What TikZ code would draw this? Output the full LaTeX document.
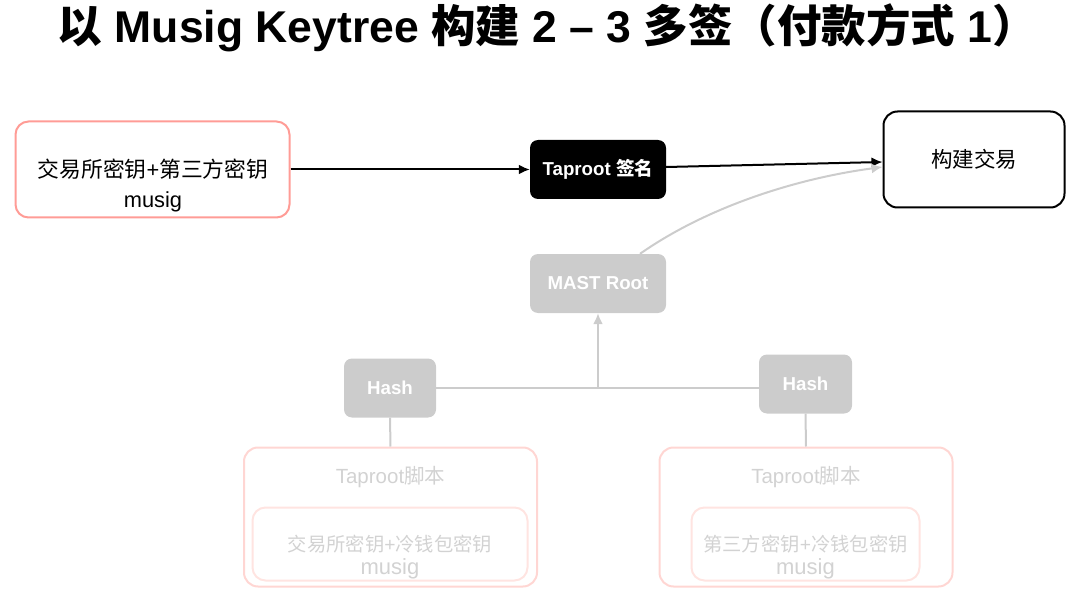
\documentclass[tikz,border=0pt]{standalone}
\usepackage{fontspec}
\setmainfont{Liberation Sans}
\newfontfamily\cjk{Noto Sans CJK SC}
\usetikzlibrary{arrows.meta}
\definecolor{keyred}{HTML}{FF9C96}
\definecolor{fadered}{HTML}{FFD6D3}
\definecolor{palered}{HTML}{FFE4E1}
\definecolor{boxgray}{HTML}{CCCCCC}
\definecolor{textgray}{HTML}{D2D2D2}
\tikzset{
  box/.style={rectangle,inner sep=0pt,align=center},
  keybox/.style={box,draw=keyred,line width=2pt,rounded corners=13pt,minimum width=274pt,minimum height=96pt},
  blackbox/.style={box,fill=black,text=white,rounded corners=8pt,minimum width=136pt,minimum height=59pt,font=\fontsize{18.7}{22}\selectfont\bfseries},
  graybox/.style={box,fill=boxgray,text=white,rounded corners=8pt,minimum height=59pt,font=\fontsize{18.7}{22}\selectfont\bfseries},
  scriptbox/.style={box,draw=fadered,line width=2pt,rounded corners=14pt,minimum width=293pt,minimum height=139pt},
  innerbox/.style={box,draw=palered,line width=2pt,rounded corners=13pt,minimum height=73pt},
  fadetext/.style={text=textgray,align=center,font=\fontsize{19.3}{23}\selectfont},
  arrowline/.style={-{Latex[length=11pt,width=10pt]},line width=2pt},
  grayline/.style={draw=boxgray,line width=2pt}
}
\begin{document}
\begin{tikzpicture}[x=1pt,y=-1pt]
  \useasboundingbox (0,0) rectangle (1080,591);

  % Title
  \node[inner sep=0pt] (title) at (547.5,28) {\fontsize{44.5}{52}\selectfont\bfseries {\cjk 以} Musig Keytree {\cjk 构建} 2 – 3 {\cjk 多签（付款方式} 1{\cjk ）}};

  % Top row
  \node[keybox] (keys) at (152.5,169.5) {};
  \node[align=center,inner sep=0pt,font=\fontsize{21.8}{30}\selectfont] (keystext) at (153,185) {{\cjk 交易所密钥}+{\cjk 第三方密钥}\\musig};
  \node[blackbox] (sign) at (598,169.5) {Taproot {\cjk 签名}};
  \node[box,draw=black,line width=2pt,rounded corners=14pt,minimum width=181pt,minimum height=96pt,font=\fontsize{21.5}{24}\selectfont\cjk] (tx) at (974,159.5) {构建交易};

  % MAST Root and Hashes
  \node[graybox,minimum width=136pt] (mast) at (598,283.5) {MAST Root};
  \node[graybox,minimum width=92pt] (hashl) at (390,388) {Hash};
  \node[graybox,minimum width=93pt] (hashr) at (805.5,384) {Hash};
  \coordinate (join) at (598,388);

  % Left script
  \node[scriptbox] (scriptl) at (390.5,517) {};
  \node[fadetext,font=\fontsize{20.5}{24}\selectfont] (titlel) at (390.5,477) {Taproot{\cjk 脚本}};
  \node[innerbox,minimum width=275pt] (innerl) at (390,544) {};
  \node[fadetext] (textl) at (390,557) {{\cjk 交易所密钥}+{\cjk 冷钱包密钥}\\{\fontsize{22}{23}\selectfont musig}};

  % Right script
  \node[scriptbox] (scriptr) at (806,517) {};
  \node[fadetext,font=\fontsize{20.5}{24}\selectfont] (titler) at (806,477) {Taproot{\cjk 脚本}};
  \node[innerbox,minimum width=228pt] (innerr) at (805.5,544) {};
  \node[fadetext] (textr) at (805.5,557) {{\cjk 第三方密钥}+{\cjk 冷钱包密钥}\\{\fontsize{22}{23}\selectfont musig}};

  % Connectors
  \draw[arrowline] (keys.east) -- (sign.west);
  \draw[arrowline] ([yshift=2.5pt]sign.east) -- ([yshift=-2.5pt]tx.west);
  \draw[grayline,arrowline,draw=boxgray] ([xshift=42pt]mast.north) .. controls (710,205) and (800,178) .. ([yshift=-7.5pt]tx.west);
  \draw[grayline] (hashl.east) -- (hashl -| hashr.west);
  \draw[grayline,arrowline,draw=boxgray] (join) -- (mast.south);
  \draw[grayline] (hashl.south) -- (scriptl.north);
  \draw[grayline] (hashr.south) -- (scriptr.north);
\end{tikzpicture}
\end{document}
